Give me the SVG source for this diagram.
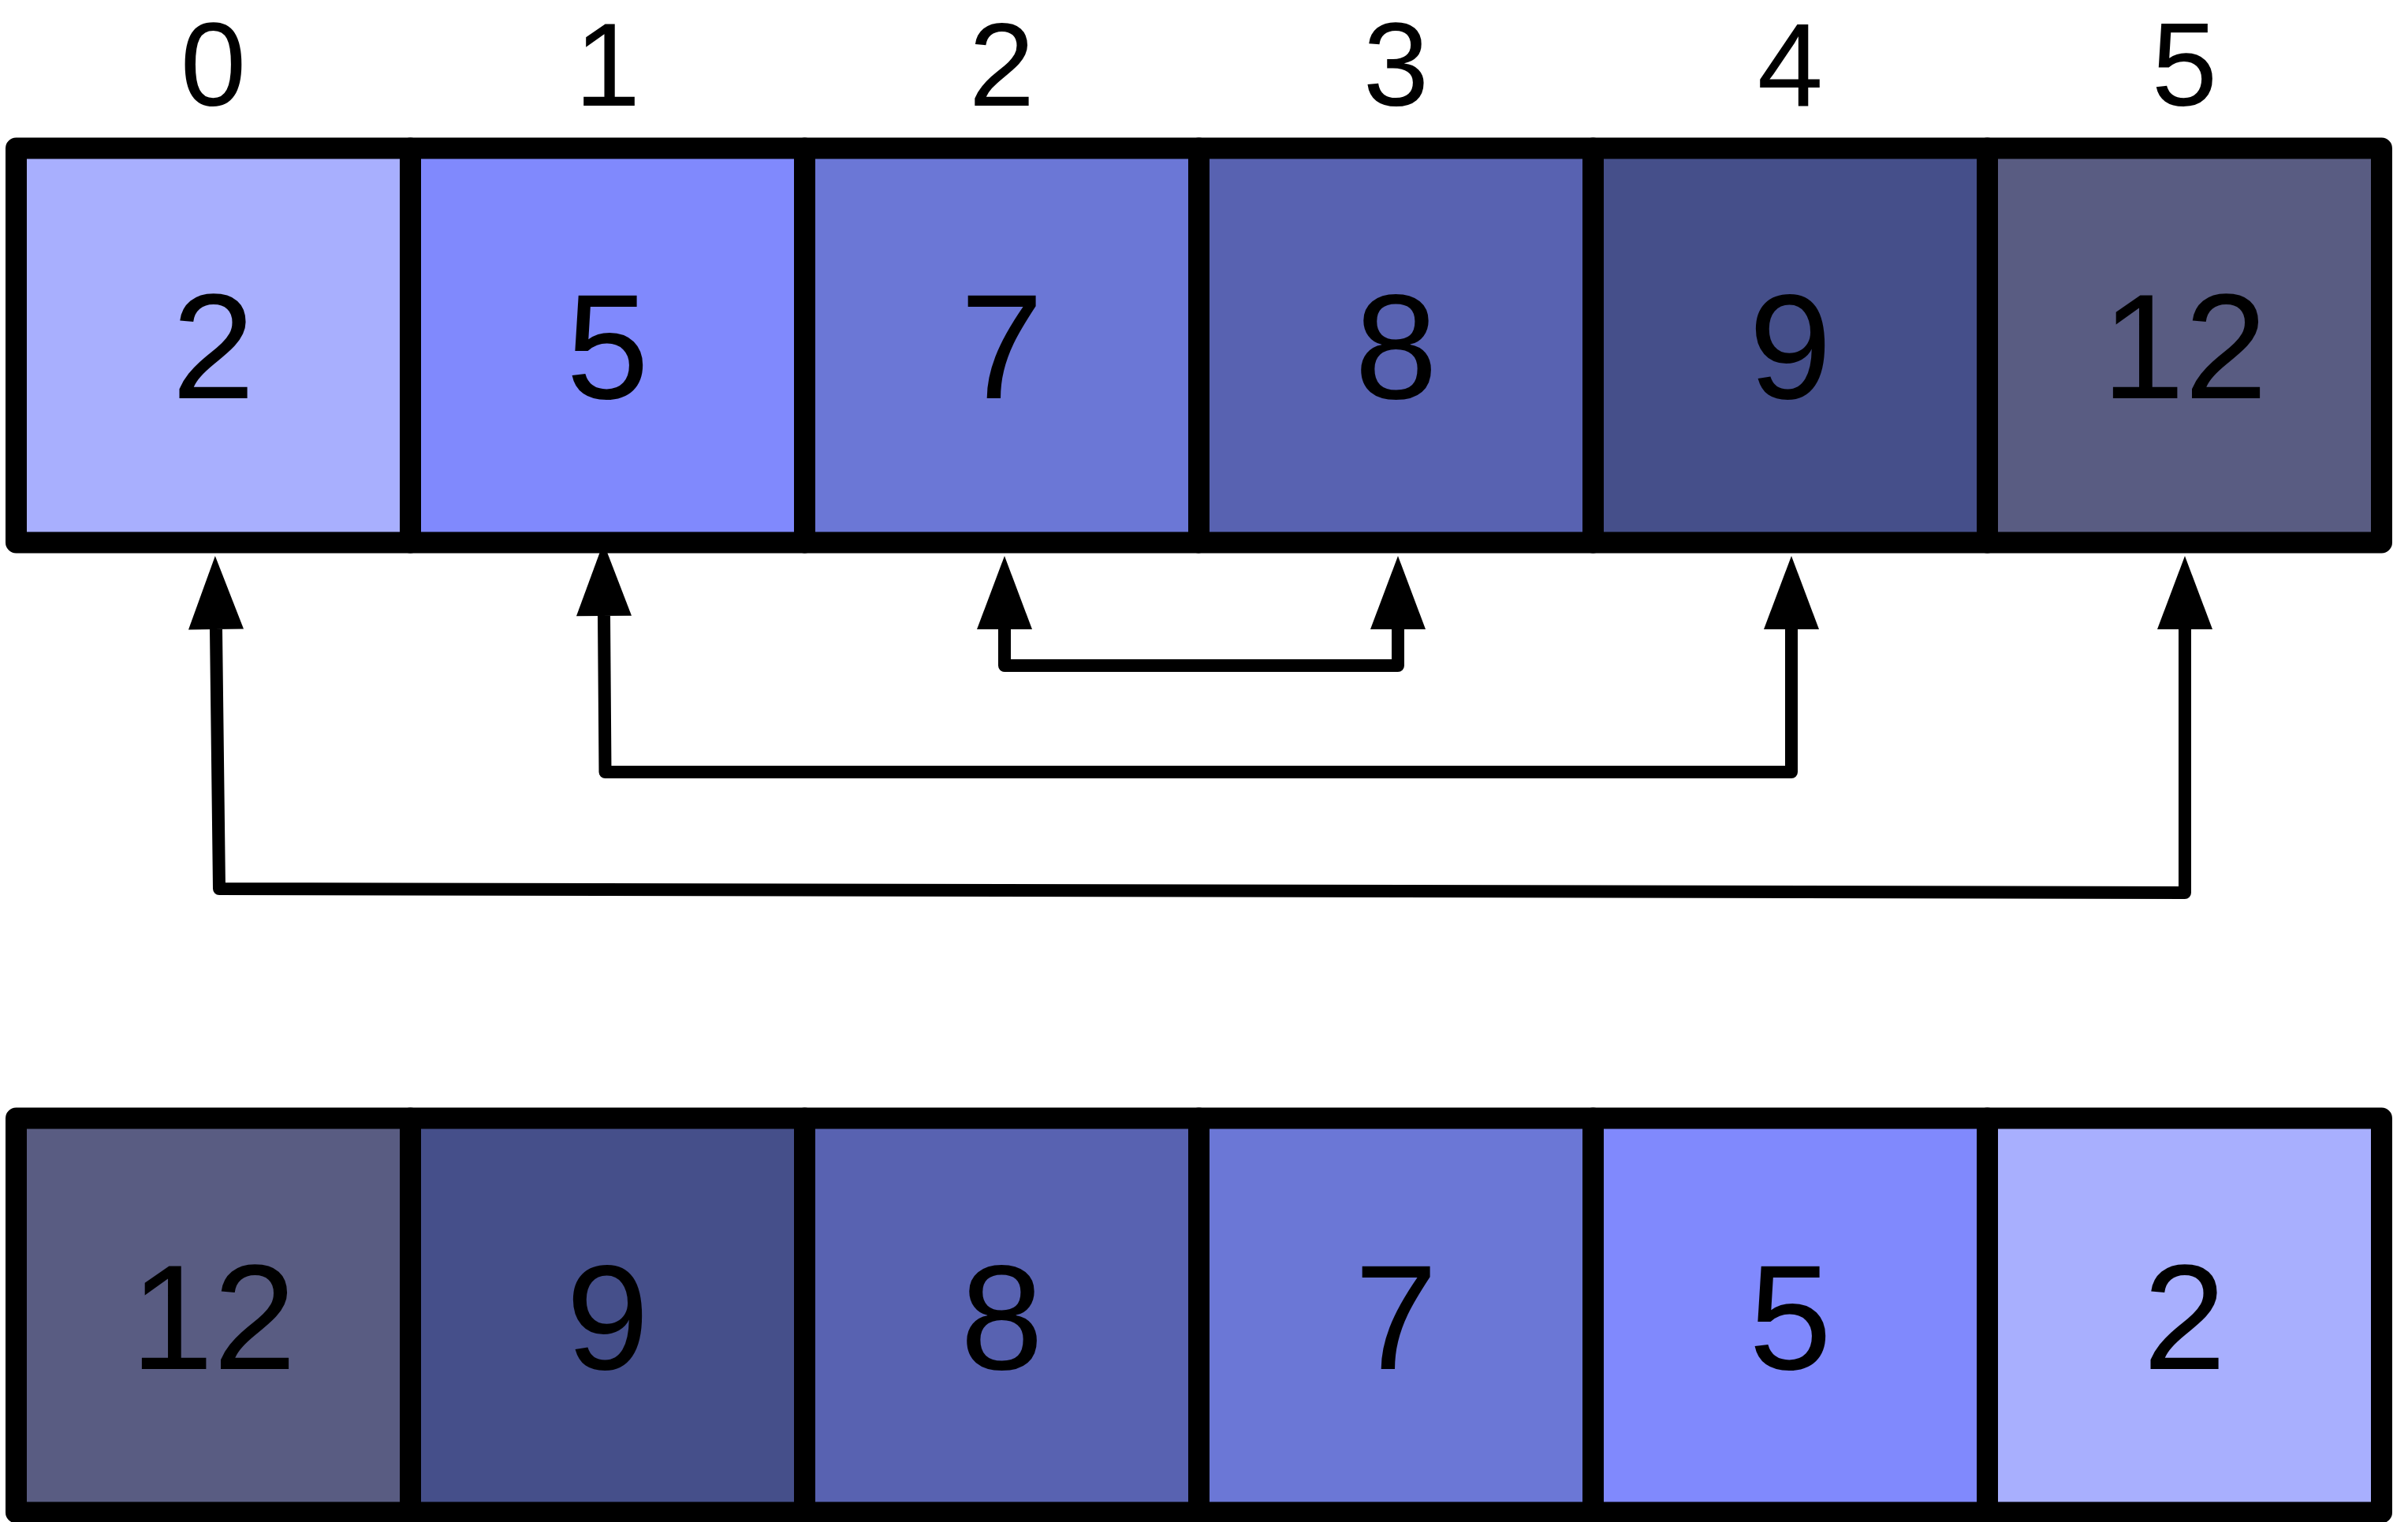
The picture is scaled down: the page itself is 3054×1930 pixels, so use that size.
<svg xmlns="http://www.w3.org/2000/svg" width="3054" height="1930" viewBox="0 0 3054 1930">
  <style>
    .cell { stroke: #000; stroke-width: 27; stroke-linejoin: round; }
    .val { font-family: "Liberation Sans", Arial, Helvetica, sans-serif; font-size: 189px; text-anchor: middle; fill: #000; }
    .idx { font-family: "Liberation Sans", Arial, Helvetica, sans-serif; font-size: 150px; text-anchor: middle; fill: #000; }
    .conn { fill: none; stroke: #000; stroke-width: 16; stroke-linejoin: round; marker-start: url(#head); marker-end: url(#head); }
    .c0 { fill: #A8AFFE; }
    .c1 { fill: #8089FD; }
    .c2 { fill: #6B77D6; }
    .c3 { fill: #5862B1; }
    .c4 { fill: #454F8A; }
    .c5 { fill: #595C82; }
  </style>
  <defs>
    <marker id="head" markerUnits="userSpaceOnUse" markerWidth="93" markerHeight="70" viewBox="0 0 93 70" refX="0" refY="35" orient="auto-start-reverse" overflow="visible">
      <path d="M0,0 L93,35 L0,70 Z" fill="#000"/>
    </marker>
  </defs>
  <rect width="3054" height="1930" fill="#fff"/>

  <g id="indices">
    <text class="idx" x="270.5" y="134">0</text>
    <text class="idx" x="770.5" y="134">1</text>
    <text class="idx" x="1270.5" y="134">2</text>
    <text class="idx" x="1770.5" y="134">3</text>
    <text class="idx" x="2270.5" y="134">4</text>
    <text class="idx" x="2770.5" y="134">5</text>
  </g>

  <g id="connectors">
    <path class="conn" d="M274,798 L278,1127 L2771,1132 L2771,798"/>
    <path class="conn" d="M766,781 L767.5,979 L2272,979 L2272,798"/>
    <path class="conn" d="M1274,798 L1274,844 L1773,844 L1773,798"/>
  </g>

  <g id="top-row">
    <g id="top-0"><rect class="cell c0" x="20.5" y="188" width="500" height="500"/><text class="val" x="270.5" y="505">2</text></g>
    <g id="top-1"><rect class="cell c1" x="520.5" y="188" width="500" height="500"/><text class="val" x="770.5" y="505">5</text></g>
    <g id="top-2"><rect class="cell c2" x="1020.5" y="188" width="500" height="500"/><text class="val" x="1270.5" y="505">7</text></g>
    <g id="top-3"><rect class="cell c3" x="1520.5" y="188" width="500" height="500"/><text class="val" x="1770.5" y="505">8</text></g>
    <g id="top-4"><rect class="cell c4" x="2020.5" y="188" width="500" height="500"/><text class="val" x="2270.5" y="505">9</text></g>
    <g id="top-5"><rect class="cell c5" x="2520.5" y="188" width="500" height="500"/><text class="val" x="2770.5" y="505">12</text></g>
  </g>

  <g id="bottom-row">
    <g id="bot-0"><rect class="cell c5" x="20.5" y="1418" width="500" height="500"/><text class="val" x="270.5" y="1736">12</text></g>
    <g id="bot-1"><rect class="cell c4" x="520.5" y="1418" width="500" height="500"/><text class="val" x="770.5" y="1736">9</text></g>
    <g id="bot-2"><rect class="cell c3" x="1020.5" y="1418" width="500" height="500"/><text class="val" x="1270.5" y="1736">8</text></g>
    <g id="bot-3"><rect class="cell c2" x="1520.5" y="1418" width="500" height="500"/><text class="val" x="1770.5" y="1736">7</text></g>
    <g id="bot-4"><rect class="cell c1" x="2020.5" y="1418" width="500" height="500"/><text class="val" x="2270.5" y="1736">5</text></g>
    <g id="bot-5"><rect class="cell c0" x="2520.5" y="1418" width="500" height="500"/><text class="val" x="2770.5" y="1736">2</text></g>
  </g>
</svg>
